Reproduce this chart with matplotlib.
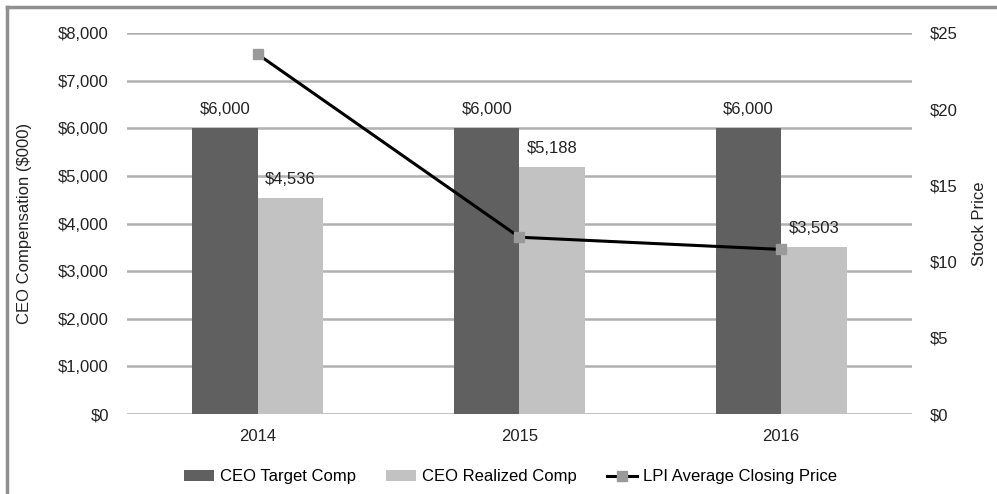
import matplotlib
matplotlib.use("Agg")
import matplotlib.pyplot as plt
from matplotlib.lines import Line2D
import numpy as np

plt.rcParams['font.family'] = ['Liberation Sans', 'DejaVu Sans']

years = ["2014", "2015", "2016"]
target_comp = [6000, 6000, 6000]
realized_comp = [4536, 5188, 3503]
stock_price = [23.6, 11.6, 10.8]
left_ticks = [0, 1000, 2000, 3000, 4000, 5000, 6000, 7000, 8000]
right_ticks = [0, 5, 10, 15, 20, 25]

FS = 12
fig = plt.figure(figsize=(9.97, 4.94), dpi=100)
ax = fig.add_axes([0.1274, 0.1619, 0.7873, 0.7713])
x = np.arange(len(years))
w = 0.25
b1 = ax.bar(x - w/2, target_comp, w, color='#606060', label='CEO Target Comp', zorder=2)
b2 = ax.bar(x + w/2, realized_comp, w, color='#c2c2c2', label='CEO Realized Comp', zorder=2)
for bars, vals in ((b1, target_comp), (b2, realized_comp)):
    for r, v in zip(bars, vals):
        ax.annotate(f"${v:,}", (r.get_x() + r.get_width()/2, v), xytext=(0, 8),
                    textcoords='offset points', ha='center', va='bottom', fontsize=FS, color='#222222')
ax.set_xlim(-0.5, 2.5)
ax.set_ylim(0, 8000)
ax.set_yticks(left_ticks)
ax.set_yticklabels([f"${v:,}" for v in left_ticks])
ax.set_xticks(x)
ax.set_xticklabels(years)
ax.grid(axis='y', color='#b0b0b0', linewidth=1.8, zorder=0)
ax.set_axisbelow(True)
ax.tick_params(length=0, labelsize=FS, colors='#222222')
ax.tick_params(axis='y', pad=13)
ax.tick_params(axis='x', pad=11)
for s in ax.spines.values():
    s.set_visible(False)
ax.set_ylabel("CEO Compensation ($000)", fontsize=FS, color='#222222', labelpad=19)

ax2 = ax.twinx()
ln, = ax2.plot(x, stock_price, color='black', linewidth=2.2, marker='s', markersize=7,
               markerfacecolor='#9a9a9a', markeredgecolor='#9a9a9a', label='LPI Average Closing Price', zorder=3)
ax2.set_ylim(0, 25)
ax2.set_yticks(right_ticks)
ax2.set_yticklabels([f"${v}" for v in right_ticks])
ax2.tick_params(length=0, labelsize=FS, colors='#222222', pad=13)
for s in ax2.spines.values():
    s.set_visible(False)
ax2.set_ylabel("Stock Price", fontsize=FS, color='#222222', labelpad=10)

fig.legend(handles=[b1, b2, ln], loc='center', bbox_to_anchor=(0.512, 0.035), ncol=3, frameon=False,
           fontsize=FS, handlelength=1.8, handletextpad=0.35, columnspacing=1.8, handleheight=0.6)

fig.add_artist(Line2D([0.007, 0.007], [0, 0.986], transform=fig.transFigure, color='#909090', linewidth=2.5))
fig.add_artist(Line2D([0.007, 1.0], [0.986, 0.986], transform=fig.transFigure, color='#909090', linewidth=2.5))

fig.savefig("out.png", dpi=100)
